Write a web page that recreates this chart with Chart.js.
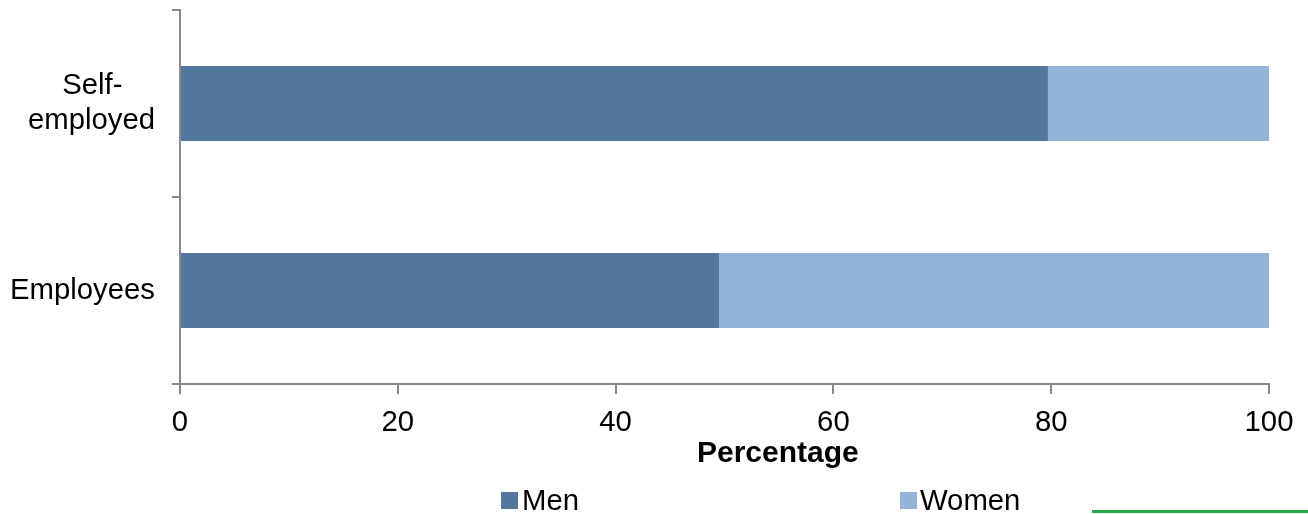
<!DOCTYPE html>
<html>
<head>
<meta charset="utf-8">
<script src="https://cdn.jsdelivr.net/npm/chart.js@4"></script>
<style>
  html, body { margin: 0; padding: 0; background: #fff; }
  #wrap { position: relative; width: 1308px; height: 514px; }
  #c { position: absolute; left: 0; top: 0; }
  .leg { position: absolute; font-family: "Liberation Sans", Arial, sans-serif; font-size: 29.3px; color: #000; line-height: 29px; white-space: nowrap; }
  .box { position: absolute; width: 17px; height: 17px; }
  #xtitle { position: absolute; left: 697px; top: 436px; font-family: "Liberation Sans", Arial, sans-serif; font-size: 30px; font-weight: bold; line-height: 32px; color: #000; white-space: nowrap; }
  #greenline { position: absolute; left: 1092px; top: 510px; width: 216px; height: 3px; background: #22a94a; }
</style>
</head>
<body>
<div id="wrap">
  <canvas id="c" width="1308" height="514"></canvas>
  <div id="xtitle">Percentage</div>
  <div class="box" style="left:501px;top:492px;background:#54779F"></div>
  <div class="leg" id="legMen" style="left:522px;top:485px">Men</div>
  <div class="box" style="left:900px;top:492px;background:#95B3D7"></div>
  <div class="leg" id="legWomen" style="left:920px;top:485px">Women</div>
  <div id="greenline"></div>
</div>
<script>
const categories = ['Self-employed', 'Employees'];
const seriesNames = ['Men', 'Women'];
const menValues = [79.7, 49.5];
const womenValues = [20.3, 50.5];
const xTicks = [0, 20, 40, 60, 80, 100];

const FONT = '"Liberation Sans", Arial, sans-serif';
Chart.defaults.font.family = FONT;
Chart.defaults.color = '#000';

new Chart(document.getElementById('c'), {
  type: 'bar',
  data: {
    labels: categories,
    datasets: [
      { label: seriesNames[0], data: menValues, backgroundColor: '#54779F', borderWidth: 0, barPercentage: 0.4, categoryPercentage: 1 },
      { label: seriesNames[1], data: womenValues, backgroundColor: '#95B3D7', borderWidth: 0, barPercentage: 0.4, categoryPercentage: 1 }
    ]
  },
  options: {
    indexAxis: 'y',
    responsive: false,
    animation: false,
    layout: { padding: { left: 0, right: 39, top: 10, bottom: 44 } },
    plugins: { legend: { display: false }, tooltip: { enabled: false } },
    scales: {
      x: {
        stacked: true,
        min: 0, max: 100,
        afterBuildTicks: (s) => { s.ticks = xTicks.map(v => ({ value: v })); },
        grid: { drawOnChartArea: false, drawTicks: true, tickLength: 10, color: '#898989', lineWidth: 2 },
        border: { display: true, color: '#898989', width: 2 },
        ticks: { font: { size: 29.3 }, padding: 11, maxRotation: 0, color: '#000' },
        title: { display: false },
        afterFit: (s) => { s.height = 86; s.paddingLeft = 0; s.paddingRight = 0; }
      },
      y: {
        stacked: true,
        grid: { drawOnChartArea: false, drawTicks: true, tickLength: 8, color: '#898989', lineWidth: 2, offset: true },
        border: { display: true, color: '#898989', width: 2 },
        ticks: {
          font: { size: 29.3, lineHeight: 1.17 },
          padding: 17,
          color: '#000',
          callback: function (v, i) {
            const l = categories[i];
            if (l.indexOf('-') > 0) {
              const p = l.split('-');
              return [p[0] + '-    ', p[1]];
            }
            return l;
          }
        },
        afterFit: (s) => { s.width = 180; s.paddingTop = 0; s.paddingBottom = 0; }
      }
    }
  }
});
</script>
</body>
</html>
